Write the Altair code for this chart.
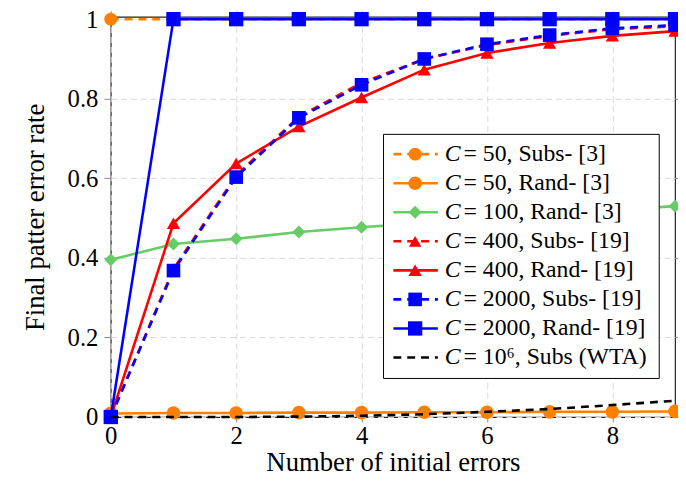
import altair as alt
import pandas as pd

# ---------------- data ----------------
errors = [0, 1, 2, 3, 4, 5, 6, 7, 8, 9]
c50_subs = [1.0, 1.0, 1.0, 1.0, 1.0, 1.0, 1.0, 1.0, 1.0, 1.0]
c50_rand = [0.009, 0.010, 0.010, 0.011, 0.011, 0.012, 0.012, 0.013, 0.013, 0.014]
c100_rand = [0.395, 0.435, 0.448, 0.465, 0.477, 0.488, 0.499, 0.510, 0.520, 0.530]
c400_subs = [0.0, 0.372, 0.607, 0.755, 0.840, 0.900, 0.935, 0.958, 0.975, 0.982]
c400_rand = [0.0, 0.487, 0.637, 0.730, 0.803, 0.873, 0.915, 0.940, 0.958, 0.970]
c2000_subs = [0.0, 0.368, 0.603, 0.752, 0.835, 0.900, 0.937, 0.960, 0.977, 0.985]
c2000_rand = [0.0, 1.0, 1.0, 1.0, 1.0, 1.0, 1.0, 1.0, 1.0, 1.0]
c1e6_subs = [0.0, 0.0, 0.0, 0.001, 0.003, 0.007, 0.013, 0.020, 0.030, 0.041]

series_values = [c50_subs, c50_rand, c100_rand, c400_subs, c400_rand,
                 c2000_subs, c2000_rand, c1e6_subs]
legend_rest = ["= 50, Subs- [3]", "= 50, Rand- [3]", "= 100, Rand- [3]",
               "= 400, Subs- [19]", "= 400, Rand- [19]", "= 2000, Subs- [19]",
               "= 2000, Rand- [19]", "= 10\u2076, Subs (WTA)"]

x_ticks = [0, 2, 4, 6, 8]
y_ticks = [0, 0.2, 0.4, 0.6, 0.8, 1]

# ---------------- styles ----------------
ORANGE = "#FF8000"
GREEN = "#66CC66"
RED = "#FF0000"
BLUE = "#0000FF"
BLACK = "#000000"
DASH = [8, 6]
styles = [
    dict(color=ORANGE, dash=DASH, shape="circle", size=170),
    dict(color=ORANGE, dash=None, shape="circle", size=190),
    dict(color=GREEN, dash=None, shape="diamond", size=170),
    dict(color=RED, dash=DASH, shape="triangle-up", size=160),
    dict(color=RED, dash=None, shape="triangle-up", size=180),
    dict(color=BLUE, dash=DASH, shape="square", size=190),
    dict(color=BLUE, dash=None, shape="square", size=210),
    dict(color=BLACK, dash=DASH, shape=None, size=0),
]

FONT = "Liberation Serif"
W, H = 571, 405
XDOM = [0, 9]
YDOM = [0, 1.006]

rows = []
for i, vals in enumerate(series_values):
    for e, v in zip(errors, vals):
        rows.append({"series": i, "errors": e, "rate": v})
df = pd.DataFrame(rows)

xs = alt.Scale(domain=XDOM, nice=False, zero=False)
ys = alt.Scale(domain=YDOM, nice=False, zero=False)

x_axis = alt.Axis(values=x_ticks, title="Number of initial errors", grid=True,
                  gridDash=[6, 4], gridColor="#d9d9d9", domain=False,
                  tickColor="#888888", tickSize=5, labelPadding=2,
                  labelFlush=False,
                  labelFontSize=25, titleFontSize=27, titlePadding=1,
                  labelFont=FONT, titleFont=FONT, titleFontWeight="normal",
                  labelColor="black", titleColor="black")
y_axis = alt.Axis(values=y_ticks, format="~g", title="Final patter error rate",
                  grid=True, gridDash=[6, 4], gridColor="#d9d9d9", domain=False,
                  tickColor="#888888", tickSize=7, labelPadding=6,
                  labelFlush=False,
                  labelFontSize=25, titleFontSize=27, titlePadding=18,
                  labelFont=FONT, titleFont=FONT, titleFontWeight="normal",
                  labelColor="black", titleColor="black")

X = alt.X("errors:Q", scale=xs, axis=x_axis)
Y = alt.Y("rate:Q", scale=ys, axis=y_axis)

main_layers = []
for i, st in enumerate(styles):
    sub = alt.Chart(df).transform_filter(alt.datum.series == i)
    line_kw = dict(color=st["color"], strokeWidth=2.6, clip=False)
    if st["dash"]:
        line_kw["strokeDash"] = st["dash"]
    main_layers.append(sub.mark_line(**line_kw).encode(x=X, y=Y))
    if st["shape"]:
        main_layers.append(
            sub.mark_point(shape=st["shape"], filled=True, size=st["size"],
                           color=st["color"], opacity=1, clip=False).encode(x=X, y=Y)
        )
main = alt.layer(*main_layers)

# mirror ticks on top / right
mirror = alt.Chart(df).mark_point(opacity=0).encode(
    x=alt.X("errors:Q", scale=xs,
            axis=alt.Axis(orient="top", values=x_ticks, labels=False, title=None,
                          grid=False, domain=False, tickColor="#888888", tickSize=6)),
    y=alt.Y("rate:Q", scale=ys,
            axis=alt.Axis(orient="right", values=y_ticks, labels=False, title=None,
                          grid=False, domain=False, tickColor="#888888", tickSize=6)),
)

# ---------------- legend (pixel frame of the plot area) ----------------
LX0, LX1, LY0, LY1 = 276, 555, 119, 366
ROW0, ROWH = 139, 29.4
SYM0, SYM1, SYMC = 286, 331, 308
TXT_C, TXT_R = 338, 357

lxs = alt.Scale(domain=[0, W], nice=False, zero=False)
lys = alt.Scale(domain=[0, H], nice=False, zero=False, reverse=True)
LXE = dict(scale=lxs, axis=None)
LYE = dict(scale=lys, axis=None)

box_df = pd.DataFrame([{"x0": LX0, "x1": LX1, "y0": LY0, "y1": LY1}])
leg_layers = [
    alt.Chart(box_df).mark_rect(fill="white", stroke="black", strokeWidth=1).encode(
        x=alt.X("x0:Q", **LXE), x2="x1:Q",
        y=alt.Y("y0:Q", **LYE), y2="y1:Q")
]
lrows = []
for i, txt in enumerate(legend_rest):
    lrows.append({"row": i, "y": ROW0 + i * ROWH, "xa": SYM0, "xb": SYM1,
                  "xm": SYMC, "xc": TXT_C, "xr": TXT_R, "rest": txt})
ldf = pd.DataFrame(lrows)
for i, st in enumerate(styles):
    sub = alt.Chart(ldf).transform_filter(alt.datum.row == i)
    rule_kw = dict(color=st["color"], strokeWidth=2.6)
    if st["dash"]:
        rule_kw["strokeDash"] = st["dash"]
    leg_layers.append(sub.mark_rule(**rule_kw).encode(
        x=alt.X("xa:Q", **LXE), x2="xb:Q", y=alt.Y("y:Q", **LYE)))
    if st["shape"]:
        leg_layers.append(sub.mark_point(shape=st["shape"], filled=True,
                                         size=st["size"], color=st["color"],
                                         opacity=1).encode(
            x=alt.X("xm:Q", **LXE), y=alt.Y("y:Q", **LYE)))
leg_layers.append(alt.Chart(ldf).mark_text(text="C", font=FONT, fontSize=24,
                                           fontStyle="italic", align="left",
                                           baseline="middle", color="black").encode(
    x=alt.X("xc:Q", **LXE), y=alt.Y("y:Q", **LYE)))
leg_layers.append(alt.Chart(ldf).mark_text(font=FONT, fontSize=24, align="left",
                                           baseline="middle", color="black").encode(
    x=alt.X("xr:Q", **LXE), y=alt.Y("y:Q", **LYE), text="rest:N"))
legend = alt.layer(*leg_layers)

chart = alt.layer(main, mirror, legend).resolve_scale(
    x="independent", y="independent"
).resolve_axis(x="independent", y="independent").properties(
    width=W, height=H,
    background="white",
    autosize=alt.AutoSizeParams(type="none"),
    padding={"left": 104, "top": 6, "right": 3, "bottom": 72},
).configure_view(stroke="#222222", strokeWidth=1.2)

chart.save("out.html", embed_options={"renderer": "svg", "actions": False})
